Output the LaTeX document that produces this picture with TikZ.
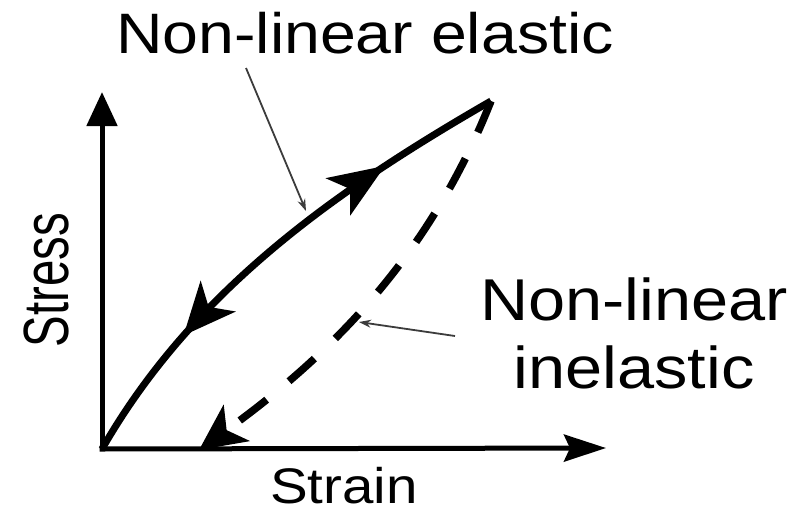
\documentclass[tikz,border=0pt]{standalone}
\usepackage{fontspec}
\setmainfont{Liberation Sans}[FakeStretch=1.13]
\newfontfamily\stressfont{Liberation Sans}[FakeStretch=0.74]
\usepackage{tikz}
\usetikzlibrary{arrows.meta,decorations.markings}
\definecolor{ssink}{RGB}{0,0,0}
\definecolor{ssgray}{RGB}{60,60,60}
\tikzset{
  axisline/.style={ssink, line width=5pt},
  loadline/.style={ssink, line width=7pt},
  unloadline/.style={ssink, line width=7.5pt, dash pattern=on 34pt off 29pt},
  pointer/.style={ssgray, line width=1.8pt, -{Stealth[length=12pt,width=8pt]}},
  bigtext/.style={inner sep=0pt, text=ssink}
}

\begin{document}
\begin{tikzpicture}[x=1pt,y=-1pt]
    \useasboundingbox (0,0) rectangle (805,515);
    % axes
    \coordinate (O) at (102,449);
    \coordinate (ytip) at (102,92);
    \coordinate (xtip) at (606,448);
    \draw[axisline, -{Triangle[length=34pt,width=30pt]}] (O) -- (ytip);
    \draw[axisline, -{Stealth[length=42pt,width=27pt,inset=6pt]}] ([xshift=-2.5pt]O) -- (xtip);
    \node[bigtext, font=\stressfont\fontsize{64}{70}\selectfont, rotate=90] (stress) at (46,280) {Stress};
    \node[bigtext, font=\fontsize{50}{60}\selectfont, anchor=base] (strain) at (344,503) {Strain};
    % loading / unloading curves
    \coordinate (apex) at (491,101);
    \coordinate (unload) at (199,450);
    \draw[loadline, postaction={decorate, decoration={markings,
        mark=at position 0.765 with {\arrow{Stealth[length=56pt,width=44pt,inset=14pt]}},
        mark=at position 0.265 with {\arrowreversed{Stealth[length=52pt,width=46pt,inset=14pt]}}}}]
        (O) .. controls (192,292) and (333,192) .. (apex);
    \draw[unloadline, -{Stealth[length=46pt,width=44pt,inset=12pt]}]
        (apex) .. controls (432,250) and (338,350) .. (unload);
    % labels
    \node[bigtext, font=\fontsize{57}{64}\selectfont, anchor=base] (elastic) at (365,53) {Non-linear elastic};
    \node[bigtext, font=\fontsize{59}{68}\selectfont, align=center, anchor=north] (inelastic) at (634,278) {Non-linear\\inelastic};
    \coordinate (ebase) at (246,68);
    \coordinate (etip) at (306,211);
    \coordinate (ibase) at (455,336);
    \coordinate (itip) at (359,322);
    \draw[pointer] (ebase) -- (etip);
    \draw[pointer] (ibase) -- (itip);
\end{tikzpicture}
\end{document}
